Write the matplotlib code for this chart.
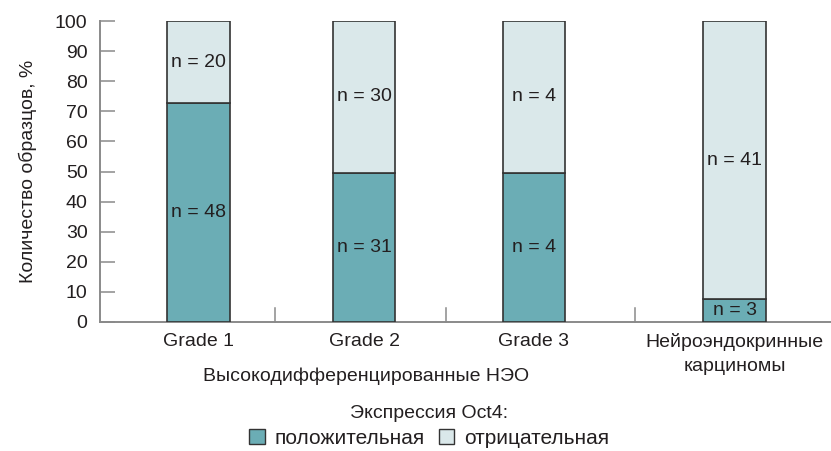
import matplotlib
matplotlib.use("Agg")
import matplotlib.pyplot as plt
from matplotlib.patches import Patch

plt.rcParams['font.family'] = ['Liberation Sans', 'DejaVu Sans']

# Data
categories = ["Grade 1", "Grade 2", "Grade 3", "Нейроэндокринные\nкарциномы"]
pos_pct = [72.6, 49.6, 49.6, 7.6]          # Oct4-positive share, %
neg_pct = [100 - p for p in pos_pct]        # Oct4-negative share, %
pos_n = [48, 31, 4, 3]
neg_n = [20, 30, 4, 41]
y_ticks = list(range(0, 101, 10))
group_label = "Высокодифференцированные НЭО"
legend_title = "Экспрессия Oct4:"
legend_labels = ["положительная", "отрицательная"]

# Layout
x_pos = [198, 363, 532, 732]
separators = [274, 445, 633]
bar_w = 62
col_pos = "#6badb5"
col_neg = "#dae8ea"
edge = "#333333"
axis_col = "#8a8a8a"
text_col = "#231f20"
fs = 14

fig = plt.figure(figsize=(8.31, 4.51), dpi=100)
ax = fig.add_axes([100 / 831, (451 - 322) / 451, 731 / 831, 301 / 451])

ax.bar(x_pos, pos_pct, width=bar_w, color=col_pos, edgecolor=edge, linewidth=1.2, zorder=3)
ax.bar(x_pos, neg_pct, bottom=pos_pct, width=bar_w, color=col_neg, edgecolor=edge,
       linewidth=1.2, zorder=3)

for x, p, q, a, b in zip(x_pos, pos_pct, neg_pct, pos_n, neg_n):
    ax.text(x, p / 2, f"n = {a}", ha="center", va="center", fontsize=fs, color=text_col, zorder=4)
    ax.text(x, p + q / 2, f"n = {b}", ha="center", va="center", fontsize=fs, color=text_col, zorder=4)

ax.set_xlim(100, 828)
ax.set_ylim(0, 100)
ax.set_yticks(y_ticks)
ax.tick_params(axis="y", direction="in", length=10.5, width=1.1, color=axis_col,
               labelsize=fs, labelcolor=text_col, pad=9)
ax.set_xticks([])
for sx in separators:
    ax.plot([sx, sx], [0, 4.7], color=axis_col, lw=1.1, clip_on=False, zorder=2)

for s in ("top", "right"):
    ax.spines[s].set_visible(False)
for s in ("left", "bottom"):
    ax.spines[s].set_color(axis_col)
    ax.spines[s].set_linewidth(1.4)

ax.set_ylabel("Количество образцов, %", fontsize=fs, color=text_col, labelpad=13)

# Category labels below the axis
for x, c in zip(x_pos, categories):
    ax.annotate(c, xy=(x, 0), xycoords="data", xytext=(0, -8), textcoords="offset points",
                ha="center", va="top", fontsize=fs, color=text_col, linespacing=1.55)
ax.annotate(group_label, xy=((x_pos[0] + x_pos[2]) / 2, 0), xycoords="data",
            xytext=(0, -33), textcoords="offset points", ha="center", va="top",
            fontsize=fs, color=text_col)

handles = [Patch(facecolor=col_pos, edgecolor=edge, linewidth=1),
           Patch(facecolor=col_neg, edgecolor=edge, linewidth=1)]
leg = fig.legend(handles, legend_labels, title=legend_title, loc="lower center",
                 bbox_to_anchor=(429 / 831, -0.025), ncol=2, frameon=False, fontsize=15,
                 title_fontsize=fs, handlelength=0.75, handleheight=0.75, handletextpad=0.45,
                 columnspacing=0.7, borderpad=0.2, labelspacing=0.3)
for t in leg.get_texts():
    t.set_color(text_col)
leg.get_title().set_color(text_col)

fig.savefig("out.png", dpi=100)
